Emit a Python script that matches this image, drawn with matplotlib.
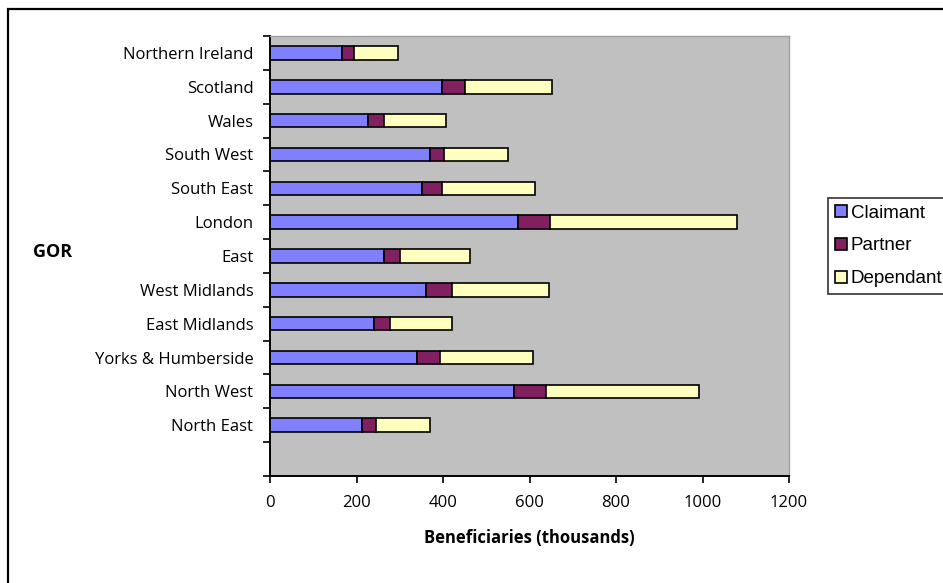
import matplotlib
matplotlib.use("Agg")
import matplotlib.pyplot as plt
from matplotlib.patches import Rectangle
import numpy as np

plt.rcParams['font.family'] = ['Open Sans', 'DejaVu Sans']

# Government Office Regions, bottom to top (first slot left blank)
regions = ["", "North East", "North West", "Yorks & Humberside", "East Midlands",
           "West Midlands", "East", "London", "South East", "South West",
           "Wales", "Scotland", "Northern Ireland"]

# Beneficiaries in thousands
claimant = [0, 212, 564, 341, 240, 360, 263, 573, 351, 370, 227, 397, 166]
partner = [0, 34, 75, 53, 37, 61, 38, 75, 47, 33, 37, 53, 28]
dependant = [0, 125, 352, 213, 144, 223, 162, 432, 214, 148, 143, 203, 102]

series_names = ["Claimant", "Partner", "Dependant"]
colors = ["#8080FF", "#802060", "#FFFFC0"]
x_ticks = [0, 200, 400, 600, 800, 1000, 1200]

W, H = 943, 583
fig = plt.figure(figsize=(W / 100, H / 100), dpi=100)

# chart-area frame
fig.add_artist(Rectangle((8 / W, -0.1), 1.2, 1 - 9 / H + 0.1,
                         transform=fig.transFigure, fill=False,
                         edgecolor="black", linewidth=1.6))

ax = fig.add_axes([270 / W, 1 - 476 / H, (789 - 270) / W, (476 - 36) / H])
ax.set_facecolor("#C0C0C0")

y = np.arange(len(regions))
left = np.zeros(len(regions))
bars = []
for vals, col, name in zip([claimant, partner, dependant], colors, series_names):
    vals = np.array(vals, dtype=float)
    b = ax.barh(y, vals, left=left, height=0.4, color=col,
                edgecolor="black", linewidth=1.2, label=name)
    bars.append(b)
    left += vals

ax.set_xlim(0, 1200)
ax.set_ylim(-0.5, len(regions) - 0.5)
ax.set_xticks(x_ticks)
ax.set_xticklabels([str(v) for v in x_ticks], fontsize=12)
ax.set_yticks(y)
ax.set_yticklabels(regions, fontsize=12)
ax.tick_params(axis="y", which="major", length=0, pad=12)
ax.set_yticks(np.arange(-0.5, len(regions), 1.0), minor=True)
ax.tick_params(axis="y", which="minor", length=5, width=1.2, direction="out")
ax.tick_params(axis="x", length=5, width=1.2, direction="out", pad=9)

for s in ["left", "bottom"]:
    ax.spines[s].set_color("black")
    ax.spines[s].set_linewidth(1.4)
for s in ["top", "right"]:
    ax.spines[s].set_color("#A0A0A0")
    ax.spines[s].set_linewidth(1.0)

ax.set_xlabel("Beneficiaries (thousands)", fontsize=12, fontweight="bold",
              labelpad=13)
fig.text(33 / W, 1 - 252 / H, "GOR", fontsize=13, fontweight="bold",
         va="center", ha="left")

leg = fig.legend(handles=bars, labels=series_names, loc="upper left",
                 bbox_to_anchor=(828 / W, 1 - 198 / H),
                 prop={"family": ["Liberation Sans"], "size": 13.5},
                 frameon=True, fancybox=False, edgecolor="black",
                 handlelength=0.65, handleheight=0.65, handletextpad=0.2,
                 borderpad=0.35, labelspacing=0.85, borderaxespad=0)
leg.get_frame().set_linewidth(1.2)

fig.savefig("out.png", dpi=100, facecolor="white")
